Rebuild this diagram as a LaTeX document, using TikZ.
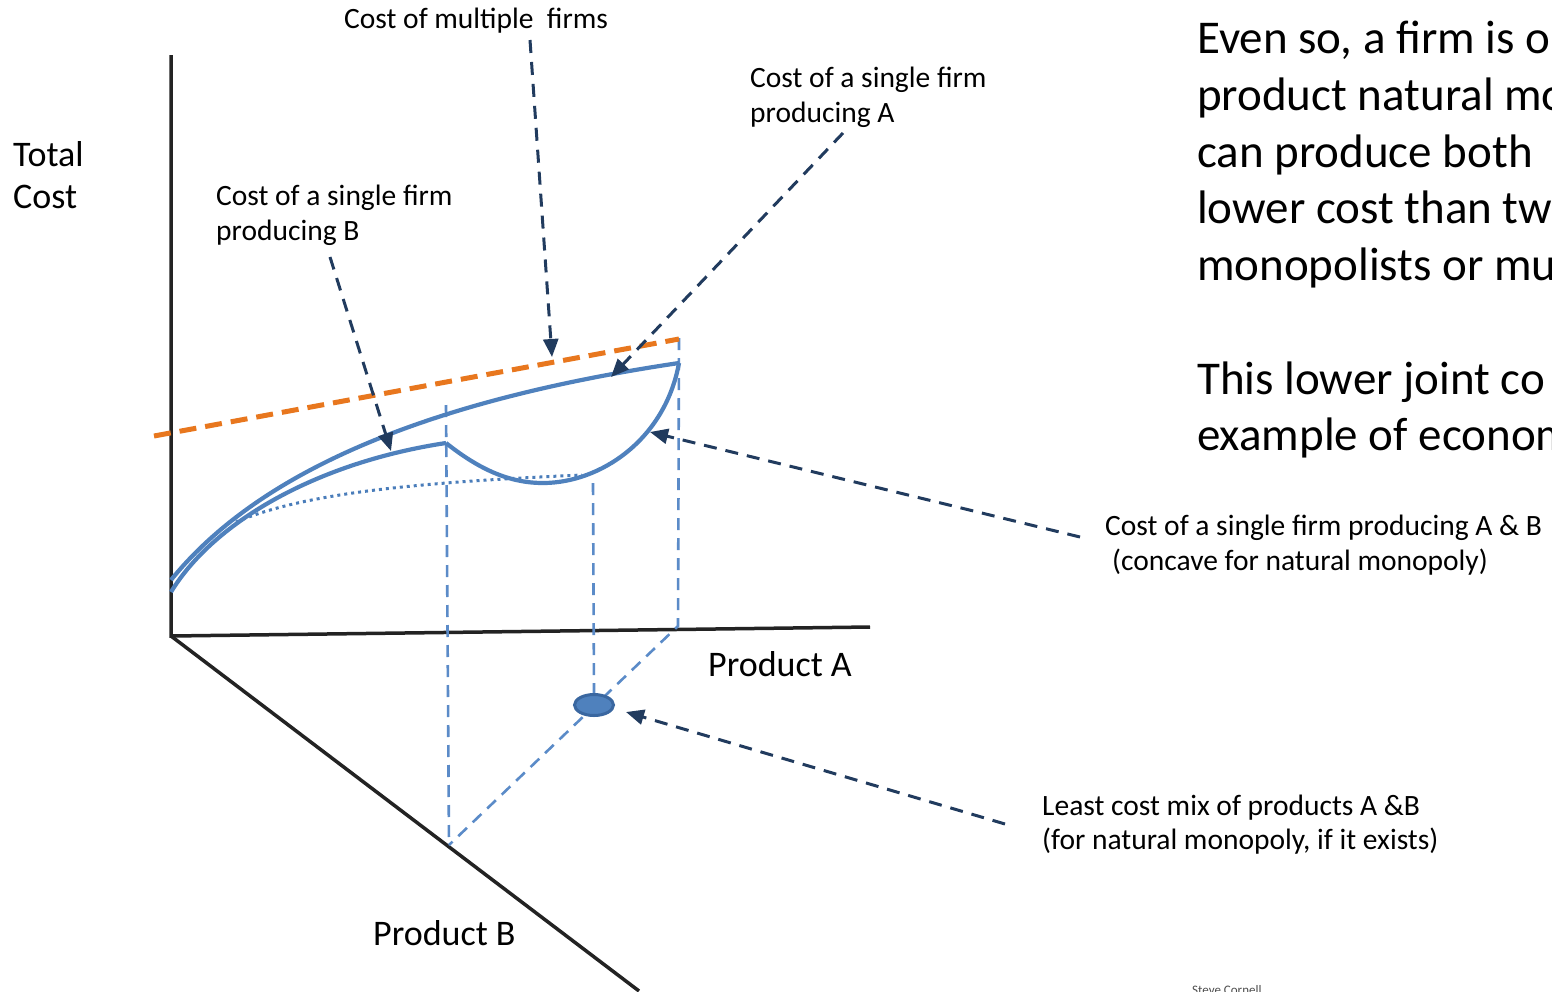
\documentclass[tikz,border=0pt]{standalone}
\usepackage{fontspec}
\setmainfont{Carlito}
\usetikzlibrary{arrows.meta,shapes.geometric}

\definecolor{curveblue}{HTML}{4F81BD}
\definecolor{dotblue}{HTML}{4A7DBA}
\definecolor{guideblue}{HTML}{5B8BC8}
\definecolor{rimblue}{HTML}{3A67A0}
\definecolor{costorange}{HTML}{E8771E}
\definecolor{pointernavy}{HTML}{213B5E}
\definecolor{axisblack}{HTML}{232323}

\begin{document}
\begin{tikzpicture}[x=1pt,y=-1pt,
  axis/.style={draw=axisblack, line width=3.5pt},
  guide/.style={draw=guideblue, line width=2.6pt, dash pattern=on 12pt off 8pt},
  costcurve/.style={draw=curveblue, line width=4.2pt},
  dotcurve/.style={draw=dotblue, line width=3pt, dash pattern=on 3pt off 4pt},
  multidash/.style={draw=costorange, line width=5pt, dash pattern=on 17pt off 9pt},
  pointer/.style={draw=pointernavy, line width=3pt, dash pattern=on 13pt off 9pt,
    -{Triangle[length=18pt,width=15pt]}},
  mixdot/.style={ellipse, draw=rimblue, fill=curveblue, line width=3pt,
    minimum width=39pt, minimum height=21pt, inner sep=0pt},
  smalllabel/.style={font=\fontsize{29.5}{35}\selectfont, inner sep=0pt, anchor=base west},
  biglabel/.style={font=\fontsize{36}{44}\selectfont, inner sep=0pt, anchor=base west},
  paraline/.style={font=\fontsize{47}{57}\selectfont, inner sep=0pt, anchor=base west},
]
\useasboundingbox (0,0) rectangle (1552,991);
\clip (0,0) rectangle (1552,991);

% key points of the diagram
\coordinate (O) at (171,636);
\coordinate (tcTop) at (171,55);
\coordinate (aEnd) at (870,627);
\coordinate (bEnd) at (639,991);
\coordinate (cusp) at (446,443);
\coordinate (cuspTop) at (446,405);
\coordinate (bFoot) at (449,845);
\coordinate (aTop) at (679,338);
\coordinate (aFoot) at (678,626);
\coordinate (dipFoot) at (593,483);
\coordinate (mixTop) at (594,693);
\coordinate (peak) at (679,363);
\coordinate (aStart) at (171,580);
\coordinate (bStart) at (171,592);
\coordinate (dipLow) at (543,483);
\coordinate (dotStart) at (236,522);
\coordinate (dotEnd) at (582,475);
\coordinate (multiStart) at (154,436);
\coordinate (multiEnd) at (679,339);

% axes
\draw[axis] (tcTop) -- (O) -- (aEnd);
\draw[axis] (O) -- (bEnd);

% projection guides
\draw[guide] (cuspTop) -- (bFoot);
\draw[guide] (aTop) -- (aFoot) -- (bFoot);
\draw[guide] (dipFoot) -- (mixTop);

% cost curves
\draw[dotcurve] (dotStart) .. controls (300,495) and (400,483) .. (dotEnd);
\draw[costcurve] (aStart) .. controls (260,470) and (430,400) .. (peak);
\draw[costcurve] (bStart) .. controls (215,520) and (320,462) .. (cusp);
\draw[costcurve] (cusp) .. controls (480,470) and (510,483) .. (dipLow)
  .. controls (600,483) and (665,440) .. (peak);
\draw[multidash] (multiStart) -- (multiEnd);

% least cost mix
\node[mixdot] (mix) at (594,705) {};

% labels
\node[biglabel] (tc1) at (13,166) {Total};
\node[biglabel] (tc2) at (13,208) {Cost};
\node[biglabel] (pa) at (708,676) {Product A};
\node[biglabel] (pb) at (373,945) {Product B};

\node[smalllabel] (multiLbl) at (344,28) {Cost of multiple\ \ firms};
\node[smalllabel] (aLbl1) at (750,87) {Cost of a single firm};
\node[smalllabel] (aLbl2) at (750,122) {producing A};
\node[smalllabel] (bLbl1) at (216,205) {Cost of a single firm};
\node[smalllabel] (bLbl2) at (216,240) {producing B};
\node[smalllabel] (abLbl1) at (1105,535) {Cost of a single firm producing A \& B};
\node[smalllabel] (abLbl2) at (1112,570) {(concave for natural monopoly)};
\node[smalllabel] (mixLbl1) at (1042,815) {Least cost mix of products A \&B};
\node[smalllabel] (mixLbl2) at (1042,849) {(for natural monopoly, if it exists)};

\node[font=\fontsize{13}{15}\selectfont, text=black!70, inner sep=0pt, anchor=base west]
  (credit) at (1192,994) {Steve Cornell};

% pointers from labels to curves
\coordinate (mfTail) at (530,40);
\coordinate (mfTip) at (552,357);
\coordinate (aTail) at (843,133);
\coordinate (aTip) at (611,377);
\coordinate (bTail) at (330,257);
\coordinate (bTip) at (391,451);
\coordinate (abTail) at (1080,537);
\coordinate (abTip) at (650,432);
\coordinate (mixTail) at (1005,824);
\coordinate (mixTip) at (626,712);
\draw[pointer] (mfTail) -- (mfTip);
\draw[pointer] (aTail) -- (aTip);
\draw[pointer] (bTail) -- (bTip);
\draw[pointer] (abTail) -- (abTip);
\draw[pointer] (mixTail) -- (mixTip);

% explanatory text
\node[paraline] (p1) at (1197,53) {Even so, a firm is o};
\node[paraline] (p2) at (1197,110) {product natural mo};
\node[paraline] (p3) at (1197,167) {can produce both};
\node[paraline] (p4) at (1197,223) {lower cost than tw};
\node[paraline] (p5) at (1197,280) {monopolists or mu};
\node[paraline] (p6) at (1197,394) {This lower joint co};
\node[paraline] (p7) at (1197,450) {example of econom};
\end{tikzpicture}
\end{document}
